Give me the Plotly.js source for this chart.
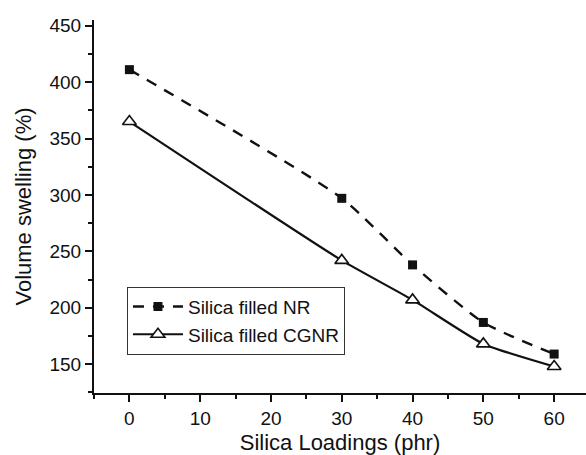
<!DOCTYPE html>
<html>
<head>
<meta charset="utf-8">
<script src="https://cdn.plot.ly/plotly-3.0.1.min.js"></script>
<style>html,body{margin:0;padding:0;background:#fff;}#chart{width:586px;height:455px;}</style>
</head>
<body>
<div id="chart"></div>
<script>
// Data
const silicaLoading = [0, 30, 40, 50, 60];
const swellingNR = [411, 297, 238, 187, 159];
const swellingCGNR = [365, 242, 207, 168, 148];
const seriesNames = ["Silica filled NR", "Silica filled CGNR"];
const xTicks = [0, 10, 20, 30, 40, 50, 60];
const yTicks = [150, 200, 250, 300, 350, 400, 450];

const FONT = "Liberation Sans, Arial, Helvetica, sans-serif";
const INK = "#111111";

const traces = [
  {
    x: silicaLoading, y: swellingNR, name: seriesNames[0],
    type: "scatter", mode: "lines+markers",
    line: {color: INK, width: 2.4, dash: "11px,9px", shape: "spline", smoothing: 0.6},
    marker: {symbol: "square", size: 9, color: INK}
  },
  {
    x: silicaLoading, y: swellingCGNR, name: seriesNames[1],
    type: "scatter", mode: "lines+markers",
    line: {color: INK, width: 2.2, shape: "spline", smoothing: 0.5},
    marker: {symbol: "triangle-up", size: 12, color: "#ffffff", line: {color: INK, width: 1.6}}
  }
];

const layout = {
  width: 586, height: 455,
  margin: {l: 94, r: 0, t: 20, b: 62},
  paper_bgcolor: "#ffffff", plot_bgcolor: "#ffffff",
  font: {family: FONT, color: INK, size: 19},
  showlegend: true,
  legend: {
    x: 0.067, y: 0.285, xanchor: "left", yanchor: "top",
    bordercolor: "#333333", borderwidth: 1, bgcolor: "#ffffff",
    font: {family: FONT, size: 19, color: INK},
    itemwidth: 50, tracegroupgap: 0
  },
  xaxis: {
    range: [-5, 64.5],
    tickvals: xTicks, ticktext: xTicks.map(String),
    ticks: "outside", ticklen: 7, tickwidth: 2, tickcolor: INK,
    minor: {dtick: 5, tick0: 0, ticks: "outside", ticklen: 4, tickwidth: 2, tickcolor: INK},
    showline: true, linewidth: 2, linecolor: INK,
    showgrid: false, zeroline: false,
    tickfont: {family: FONT, size: 19, color: INK},
    title: {text: "Silica Loadings (phr)", font: {family: FONT, size: 22, color: INK}, standoff: 9}
  },
  yaxis: {
    range: [124.5, 455],
    tickvals: yTicks, ticktext: yTicks.map(String),
    ticks: "outside", ticklen: 7, tickwidth: 2, tickcolor: INK,
    minor: {dtick: 25, tick0: 0, ticks: "outside", ticklen: 4, tickwidth: 2, tickcolor: INK},
    showline: true, linewidth: 2, linecolor: INK,
    showgrid: false, zeroline: false,
    tickfont: {family: FONT, size: 19, color: INK},
    title: {text: "Volume swelling (%)", font: {family: FONT, size: 22, color: INK}, standoff: 12}
  }
};

Plotly.newPlot("chart", traces, layout, {staticPlot: true, displayModeBar: false});
</script>
</body>
</html>
